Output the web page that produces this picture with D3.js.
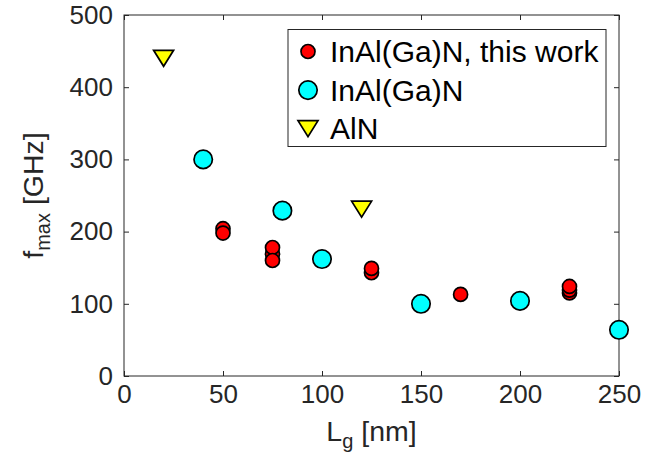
<!DOCTYPE html>
<html>
<head>
<meta charset="utf-8">
<script src="https://cdn.jsdelivr.net/npm/d3@7"></script>
<style>
  html, body { margin: 0; padding: 0; background: #fff; }
  svg { display: block; font-family: "Liberation Sans", Arial, Helvetica, sans-serif; }
</style>
</head>
<body>
<svg id="chart" width="648" height="467"></svg>
<script>
// Gate length (nm) vs. maximum oscillation frequency (GHz)
const thisWorkLg   = [50, 50, 75, 75, 75, 125, 125, 170, 225, 225, 225];
const thisWorkFmax = [204, 198, 169, 178, 160, 143, 149, 113, 115, 119, 124];

const inalganLg   = [40, 80, 100, 150, 200, 250];
const inalganFmax = [300, 229, 162, 100, 104, 64];

const alnLg   = [20, 120];
const alnFmax = [440, 231];

const xTicks = [0, 50, 100, 150, 200, 250];
const yTicks = [0, 100, 200, 300, 400, 500];

const legendLabels = ["InAl(Ga)N, this work", "InAl(Ga)N", "AlN"];

const axisColor = "#262626";
const plot = { left: 124, right: 619, top: 15, bottom: 376 };

const svg = d3.select("#chart");

const x = d3.scaleLinear().domain([0, 250]).range([plot.left, plot.right]);
const y = d3.scaleLinear().domain([0, 500]).range([plot.bottom, plot.top]);

// Axes with inward ticks on all four sides
function styleAxis(g) {
  g.select(".domain").remove();
  g.selectAll(".tick line").attr("stroke", axisColor).attr("stroke-width", 1);
  g.selectAll(".tick text")
    .attr("fill", axisColor)
    .attr("font-size", 26)
    .attr("font-family", "Liberation Sans, Arial, sans-serif");
}

svg.append("g")
  .attr("transform", `translate(0,${plot.bottom})`)
  .call(d3.axisBottom(x).tickValues(xTicks).tickSize(-5).tickPadding(9).tickFormat(d3.format("d")))
  .call(styleAxis);

svg.append("g")
  .attr("transform", `translate(0,${plot.top})`)
  .call(d3.axisTop(x).tickValues(xTicks).tickSize(-5).tickFormat(""))
  .call(styleAxis);

svg.append("g")
  .attr("transform", `translate(${plot.left},0)`)
  .call(d3.axisLeft(y).tickValues(yTicks).tickSize(-5).tickPadding(11).tickFormat(d3.format("d")))
  .call(styleAxis);

svg.append("g")
  .attr("transform", `translate(${plot.right},0)`)
  .call(d3.axisRight(y).tickValues(yTicks).tickSize(-5).tickFormat(""))
  .call(styleAxis);

// Axes box
svg.append("rect")
  .attr("x", plot.left)
  .attr("y", plot.top)
  .attr("width", plot.right - plot.left)
  .attr("height", plot.bottom - plot.top)
  .attr("fill", "none")
  .attr("stroke", axisColor)
  .attr("stroke-width", 1);

// Marker shapes
function trianglePath(cx, cy) {
  return `M${cx - 10},${cy - 8}L${cx + 10},${cy - 8}L${cx},${cy + 8}Z`;
}

const markerStroke = 1.7;

function drawCircles(lg, fm, r, fill) {
  svg.append("g")
    .selectAll("circle")
    .data(lg.map((d, i) => ({ lg: d, f: fm[i] })))
    .join("circle")
    .attr("cx", d => x(d.lg))
    .attr("cy", d => y(d.f))
    .attr("r", r)
    .attr("fill", fill)
    .attr("stroke", "#000")
    .attr("stroke-width", markerStroke);
}

drawCircles(thisWorkLg, thisWorkFmax, 7, "#ff0000");
drawCircles(inalganLg, inalganFmax, 9.2, "#00ffff");

svg.append("g")
  .selectAll("path")
  .data(alnLg.map((d, i) => ({ lg: d, f: alnFmax[i] })))
  .join("path")
  .attr("d", d => trianglePath(x(d.lg), y(d.f)))
  .attr("fill", "#ffff00")
  .attr("stroke", "#000")
  .attr("stroke-width", markerStroke)
  .attr("stroke-linejoin", "miter");

// Legend
const legend = { x: 288, y: 29.5, w: 318, h: 117, row0: 22, rowStep: 38.6, markerX: 20, textX: 42 };
const lg = svg.append("g").attr("transform", `translate(${legend.x},${legend.y})`);
lg.append("rect")
  .attr("width", legend.w)
  .attr("height", legend.h)
  .attr("fill", "#fff")
  .attr("stroke", axisColor)
  .attr("stroke-width", 1);

const legendStyles = [
  { kind: "circle", r: 7, fill: "#ff0000" },
  { kind: "circle", r: 9.2, fill: "#00ffff" },
  { kind: "tri", fill: "#ffff00" }
];

legendLabels.forEach((label, i) => {
  const cy = legend.row0 + i * legend.rowStep;
  const s = legendStyles[i];
  if (s.kind === "circle") {
    lg.append("circle")
      .attr("cx", legend.markerX).attr("cy", cy).attr("r", s.r)
      .attr("fill", s.fill).attr("stroke", "#000").attr("stroke-width", markerStroke);
  } else {
    lg.append("path")
      .attr("d", trianglePath(legend.markerX, cy))
      .attr("fill", s.fill).attr("stroke", "#000").attr("stroke-width", markerStroke);
  }
  lg.append("text")
    .attr("x", legend.textX)
    .attr("y", cy)
    .attr("dy", "0.35em")
    .attr("font-size", 30)
    .attr("fill", "#000")
    .text(label);
});

// Axis titles
const xTitle = svg.append("text")
  .attr("x", (plot.left + plot.right) / 2)
  .attr("y", 441)
  .attr("text-anchor", "middle")
  .attr("font-size", 28.5)
  .attr("fill", axisColor);
xTitle.append("tspan").text("L");
xTitle.append("tspan").attr("dy", 7).attr("font-size", 20).text("g");
xTitle.append("tspan").attr("dy", -7).text(" [nm]");

const yTitle = svg.append("text")
  .attr("transform", `translate(43,${(plot.top + plot.bottom) / 2}) rotate(-90)`)
  .attr("text-anchor", "middle")
  .attr("font-size", 28.5)
  .attr("fill", axisColor);
yTitle.append("tspan").text("f");
yTitle.append("tspan").attr("dy", 7).attr("font-size", 20).text("max");
yTitle.append("tspan").attr("dy", -7).text(" [GHz]");
</script>
</body>
</html>
